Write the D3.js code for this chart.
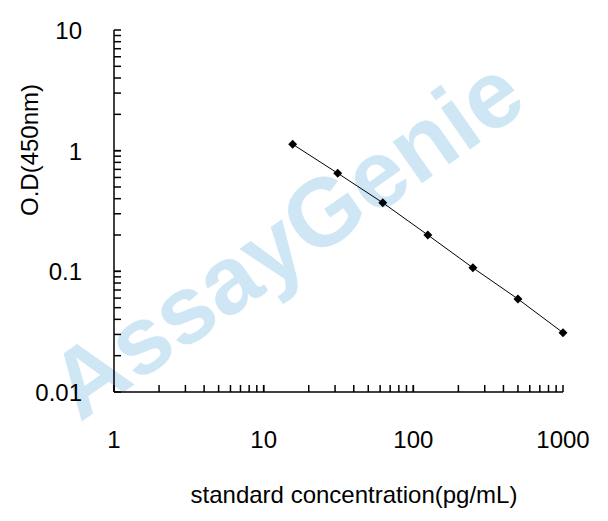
<!DOCTYPE html><html><head><meta charset="utf-8">
<script src="https://cdn.jsdelivr.net/npm/d3@7"></script>
<style>body{margin:0;background:#fff}</style></head><body>
<svg id="c" width="608" height="521"></svg>
<script>
const conc=[15.625,31.25,62.5,125,250,500,1000];
const od=[1.13,0.65,0.37,0.2,0.107,0.059,0.031];
const xTicks=[1,10,100,1000];
const yTicks=[0.01,0.1,1,10];
const svg=d3.select("#c");
const x=d3.scaleLog().domain([1,1000]).range([114,563]);
const y=d3.scaleLog().domain([0.01,10]).range([392,30]);
const f="Liberation Sans, Arial, sans-serif";
svg.append("text").attr("transform","translate(305,265) rotate(-35)").attr("text-anchor","middle")
 .attr("font-family",f).attr("font-weight","bold").attr("font-size",96).attr("fill","#a8d4ee").attr("opacity",0.55).text("AssayGenie");
const minor=[];for(let d=0.01;d<10;d*=10)for(let k=1;k<=10;k++)minor.push(d*k);
const xminor=[];for(let d=1;d<1000;d*=10)for(let k=1;k<=10;k++)xminor.push(d*k);
const g=svg.append("g").attr("stroke","#000").attr("stroke-width",1.5);
g.append("line").attr("x1",114).attr("x2",114).attr("y1",y(10)).attr("y2",y(0.01));
g.append("line").attr("x1",114).attr("x2",x(1000)).attr("y1",392).attr("y2",392);
g.selectAll(".ym").data(minor).enter().append("line").attr("x1",114).attr("x2",121).attr("y1",d=>y(d)).attr("y2",d=>y(d));
g.selectAll(".xm").data(xminor).enter().append("line").attr("y1",392).attr("y2",385).attr("x1",d=>x(d)).attr("x2",d=>x(d));
svg.selectAll(".yl").data(yTicks).enter().append("text").attr("x",82).attr("y",d=>y(d)+9).attr("text-anchor","end")
 .attr("font-family",f).attr("font-size",24).text(d=>d);
svg.selectAll(".xl").data(xTicks).enter().append("text").attr("x",d=>x(d)).attr("y",448).attr("text-anchor","middle")
 .attr("font-family",f).attr("font-size",24).text(d=>d);
svg.append("text").attr("x",354).attr("y",503).attr("text-anchor","middle").attr("font-family",f).attr("font-size",24).text("standard concentration(pg/mL)");
svg.append("text").attr("transform","translate(38,150) rotate(-90)").attr("text-anchor","middle").attr("font-family",f).attr("font-size",24).text("O.D(450nm)");
svg.append("path").datum(conc.map((c,i)=>[c,od[i]])).attr("fill","none").attr("stroke","#000").attr("stroke-width",1)
 .attr("d",d3.line().x(d=>x(d[0])).y(d=>y(d[1])));
svg.selectAll(".p").data(conc).enter().append("path").attr("d",d3.symbol(d3.symbolSquare,40))
 .attr("transform",(c,i)=>`translate(${x(c)},${y(od[i])}) rotate(45)`).attr("fill","#000");
</script></body></html>
